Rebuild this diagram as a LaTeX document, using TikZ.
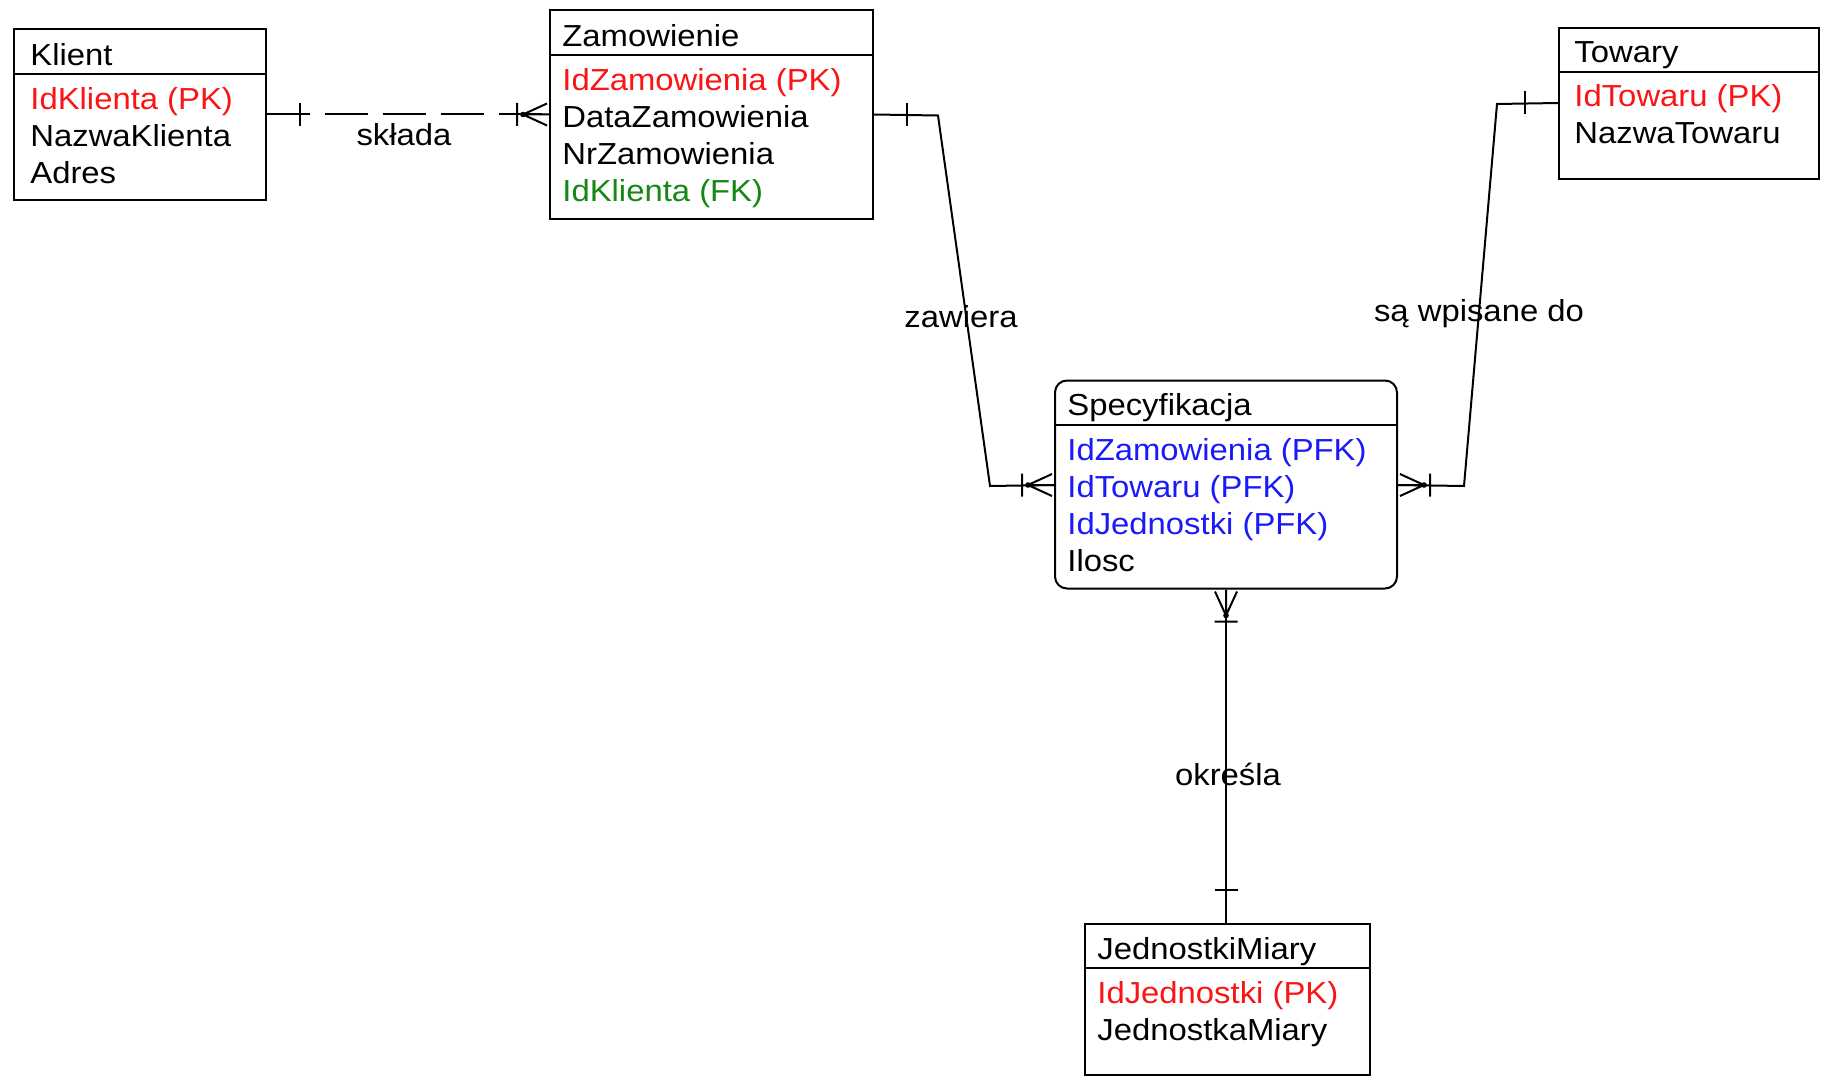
\documentclass[tikz,border=0pt]{standalone}
\usepackage{fontspec}
\setmainfont{Liberation Sans}[FakeStretch=1.08]
\usetikzlibrary{fit,calc}
\definecolor{pkred}{RGB}{250,20,20}
\definecolor{fkgreen}{RGB}{20,135,20}
\definecolor{pfkblue}{RGB}{25,25,250}
\begin{document}
\begin{tikzpicture}[x=0.5pt,y=-0.5pt,
  every node/.style={font=\fontsize{15.2pt}{18pt}\selectfont},
  box/.style={draw, line width=1pt, inner sep=0pt},
  txt/.style={inner sep=0pt, anchor=base west},
  lbl/.style={inner sep=0pt, anchor=base},
  lnk/.style={line width=1pt},
  crow/.pic={\draw[line width=1pt] (-26,0) -- (-2,11) (-26,0) -- (-2,-11) (-26,0) -- (0,0) (-32,-11.5) -- (-32,11.5);
             \fill (-26,0) circle (1.4pt);},
  onebar/.pic={\draw[line width=1pt] (-33,-11.5) -- (-33,11.5);}
]
\useasboundingbox (0,0) rectangle (1826,1081);

% ---------- Klient ----------
\node[box, fit={(14,29.5) (265.5,200)}] (klient) {};
\draw[lnk] ($(klient.north west)+(0,45.5)$) -- ($(klient.north east)+(0,45.5)$);
\node[txt] (k0) at (30,65.5) {Klient};
\node[txt, text=pkred] (k1) at (30,109.5) {IdKlienta (PK)};
\node[txt] (k2) at (30,146.5) {NazwaKlienta};
\node[txt] (k3) at (30,183.5) {Adres};

% ---------- Zamowienie ----------
\node[box, fit={(550,10.5) (873,219)}] (zam) {};
\draw[lnk] ($(zam.north west)+(0,45.5)$) -- ($(zam.north east)+(0,45.5)$);
\node[txt] (z0) at (562,46.5) {Zamowienie};
\node[txt, text=pkred] (z1) at (562,90.5) {IdZamowienia (PK)};
\node[txt] (z2) at (562,127.5) {DataZamowienia};
\node[txt] (z3) at (562,164.5) {NrZamowienia};
\node[txt, text=fkgreen] (z4) at (562,201.5) {IdKlienta (FK)};

% ---------- Towary ----------
\node[box, fit={(1559,28) (1819,179)}] (tow) {};
\draw[lnk] ($(tow.north west)+(0,45)$) -- ($(tow.north east)+(0,45)$);
\node[txt] (t0) at (1574,62.5) {Towary};
\node[txt, text=pkred] (t1) at (1574,106.5) {IdTowaru (PK)};
\node[txt] (t2) at (1574,143.5) {NazwaTowaru};

% ---------- Specyfikacja ----------
\node[box, rounded corners=6pt, fit={(1055,380.5) (1397,588.5)}] (spec) {};
\draw[lnk] ($(spec.north west)+(0,45.5)$) -- ($(spec.north east)+(0,45.5)$);
\node[txt] (s0) at (1067,415.5) {Specyfikacja};
\node[txt, text=pfkblue] (s1) at (1067,460) {IdZamowienia (PFK)};
\node[txt, text=pfkblue] (s2) at (1067,497) {IdTowaru (PFK)};
\node[txt, text=pfkblue] (s3) at (1067,534) {IdJednostki (PFK)};
\node[txt] (s4) at (1067,571) {Ilosc};

% ---------- JednostkiMiary ----------
\node[box, fit={(1085,923.5) (1369.5,1075)}] (jm) {};
\draw[lnk] ($(jm.north west)+(0,45.5)$) -- ($(jm.north east)+(0,45.5)$);
\node[txt] (j0) at (1097,959) {JednostkiMiary};
\node[txt, text=pkred] (j1) at (1097,1003) {IdJednostki (PK)};
\node[txt] (j2) at (1097,1040) {JednostkaMiary};

% ---------- attachment points ----------
\coordinate (kA) at ($(klient.north east)+(0,86)$);
\coordinate (zA) at ($(zam.north west)+(0,105)$);
\coordinate (zE) at ($(zam.north east)+(0,105)$);
\coordinate (tW) at ($(tow.north west)+(0,76)$);
\coordinate (sL) at ($(spec.north west)+(0,105.5)$);
\coordinate (sR) at ($(spec.north east)+(0,105.5)$);
\coordinate (sB) at (spec.south);
\coordinate (jT) at (jm.north -| sB);
\coordinate (b1) at (938,115.5);
\coordinate (b2) at (990,486);
\coordinate (b3) at (1497,104);
\coordinate (b4) at (1464,486);

% ---------- connectors ----------
\draw[lnk, dash pattern=on 21.5pt off 7.5pt] (kA) -- (zA);
\pic[rotate=180] at (kA) {onebar};
\pic at (zA) {crow};
\node[lbl] (lskl) at (404,146) {składa};

\draw[lnk] (zE) -- (b1) -- (b2) -- (sL);
\pic[rotate=180] at (zE) {onebar};
\pic at (sL) {crow};
\node[lbl] (lzaw) at (961,327) {zawiera};

\draw[lnk] (tW) -- (b3) -- (b4) -- (sR);
\pic at (tW) {onebar};
\pic[rotate=180] at (sR) {crow};
\node[lbl] (lwpi) at (1479,321) {są wpisane do};

\draw[lnk] (sB) -- (jT);
\pic[rotate=90] at (sB) {crow};
\pic[rotate=-90] at (jT) {onebar};
\node[lbl] (lokr) at (1228,785.5) {określa};
\end{tikzpicture}
\end{document}
